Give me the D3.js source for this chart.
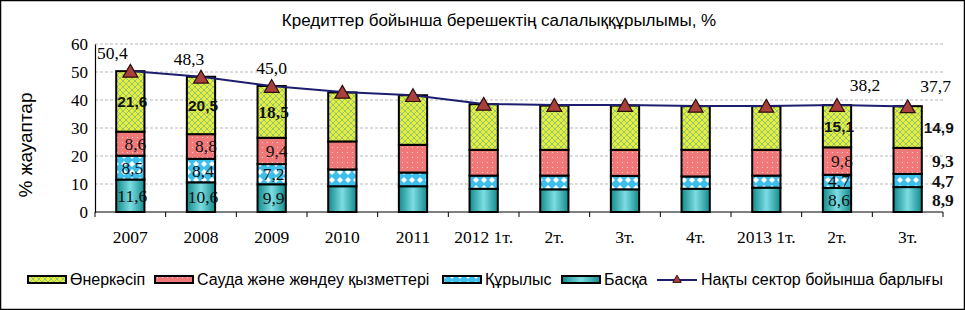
<!DOCTYPE html>
<html>
<head>
<meta charset="utf-8">
<script src="https://cdn.jsdelivr.net/npm/d3@7"></script>
<style>
body { margin: 0; background: #fff; }
svg { display: block; }
</style>
</head>
<body>
<svg id="chart" width="965" height="310"></svg>
<script>
var categories = ["2007", "2008", "2009", "2010", "2011", "2012 1т.", "2т.", "3т.", "4т.", "2013 1т.", "2т.", "3т."];
var baska     = [11.6, 10.6, 9.9, 9.2, 9.2, 8.3, 8.1, 8.1, 8.3, 8.7, 8.6, 8.9];
var kurylys   = [8.5, 8.4, 7.2, 6.0, 4.9, 4.7, 4.9, 4.8, 4.4, 4.3, 4.7, 4.7];
var sauda     = [8.6, 8.8, 9.4, 10.0, 9.9, 9.2, 9.2, 9.3, 9.5, 9.2, 9.8, 9.3];
var onerkasip = [21.6, 20.5, 18.5, 17.5, 17.7, 16.3, 15.8, 15.8, 15.6, 15.6, 15.1, 14.9];
var total     = [50.4, 48.3, 45.0, 42.9, 41.7, 38.6, 38.2, 38.2, 37.9, 37.9, 38.2, 37.7];
var yTicks = [0, 10, 20, 30, 40, 50, 60];
var seriesNames = ["Өнеркәсіп", "Сауда және жөндеу қызметтері", "Құрылыс", "Басқа"];
var lineName = "Нақты сектор бойынша барлығы";
// which columns carry value labels
var labelledInside = [0, 1, 2, 10];
var labelledRight = [11];
var labelledTotal = [0, 1, 2, 10, 11];

var svg = d3.select("#chart");
var W = 965, H = 310;
var plotL = 95, plotR = 943, plotT = 44, plotB = 212;
var serif = "Liberation Serif, Times New Roman";

var fmt = function (v) { return d3.format(".1f")(v).replace(".", ","); };

// patterns
var defs = svg.append("defs");
var pc = defs.append("pattern").attr("id", "cross").attr("patternUnits", "userSpaceOnUse")
	.attr("width", 6).attr("height", 6);
pc.append("rect").attr("width", 6).attr("height", 6).attr("fill", "#e4ee3e");
pc.append("path").attr("d", "M0,0 L6,6 M6,0 L0,6").attr("stroke", "#8fbf78").attr("stroke-width", 0.9);

var pd = defs.append("pattern").attr("id", "dots").attr("patternUnits", "userSpaceOnUse")
	.attr("width", 5).attr("height", 5);
pd.append("rect").attr("width", 5).attr("height", 5).attr("fill", "#f07878");
pd.append("circle").attr("cx", 2.5).attr("cy", 2.5).attr("r", 0.6).attr("fill", "#fbe0e0");

var pm = defs.append("pattern").attr("id", "diam").attr("patternUnits", "userSpaceOnUse")
	.attr("width", 8).attr("height", 8);
pm.append("rect").attr("width", 8).attr("height", 8).attr("fill", "#3cbfea");
pm.append("path").attr("d", "M4,1 L7,4 L4,7 L1,4 Z").attr("fill", "#ffffff");

var gr = defs.append("linearGradient").attr("id", "teal").attr("x1", "0%").attr("x2", "100%");
gr.append("stop").attr("offset", "0%").attr("stop-color", "#128a8c");
gr.append("stop").attr("offset", "50%").attr("stop-color", "#7cdde2");
gr.append("stop").attr("offset", "100%").attr("stop-color", "#128a8c");

var fills = ["url(#cross)", "url(#dots)", "url(#diam)", "url(#teal)"];

// frame
svg.append("rect").attr("x", 0.5).attr("y", 0.5).attr("width", W - 1).attr("height", H - 1)
	.attr("fill", "none").attr("stroke", "#000").attr("stroke-width", 1.5);

svg.append("text").attr("x", 499).attr("y", 26).attr("text-anchor", "middle")
	.attr("font-family", "Liberation Sans, Arial").attr("font-size", 17)
	.text("Кредиттер бойынша берешектің салалыққұрылымы, %");

var x = d3.scaleBand().domain(d3.range(categories.length)).range([plotL, plotR])
	.paddingInner(0.6).paddingOuter(0.3);
var y = d3.scaleLinear().domain([0, 60]).range([plotB, plotT]);

// grid
svg.append("g").selectAll("line").data(yTicks.filter(function (d) { return d > 0; }))
	.enter().append("line")
	.attr("x1", plotL).attr("x2", plotR)
	.attr("y1", function (d) { return y(d); }).attr("y2", function (d) { return y(d); })
	.attr("stroke", "#b8b8b8").attr("stroke-dasharray", "3,2");

// y axis
var yAxis = svg.append("g").attr("transform", "translate(" + plotL + ",0)")
	.call(d3.axisLeft(y).tickValues(yTicks).tickSize(0).tickPadding(7));
yAxis.select(".domain").attr("stroke", "#000").attr("stroke-width", 1.2);
yAxis.selectAll("text").attr("font-family", serif).attr("font-size", 17).attr("fill", "#000");

svg.append("text").attr("transform", "translate(32,145) rotate(-90)").attr("text-anchor", "middle")
	.attr("font-family", "Liberation Sans, Arial").attr("font-size", 19).text("% жауаптар");

// stacked bars
var rows = categories.map(function (c, i) {
	return { i: i, "3": baska[i], "2": kurylys[i], "1": sauda[i], "0": onerkasip[i] };
});
var stack = d3.stack().keys(["3", "2", "1", "0"]);
var layers = stack(rows);

svg.append("g").selectAll("g").data(layers).enter().append("g")
	.attr("fill", function (d) { return fills[+d.key]; })
	.selectAll("rect").data(function (d) { return d; }).enter().append("rect")
	.attr("x", function (d) { return x(d.data.i); })
	.attr("width", x.bandwidth())
	.attr("y", function (d) { return y(d[1]); })
	.attr("height", function (d) { return y(d[0]) - y(d[1]); })
	.attr("stroke", "#000").attr("stroke-width", 2);

// x axis
var xAxisG = svg.append("g").attr("transform", "translate(0," + plotB + ")");
xAxisG.append("line").attr("x1", plotL).attr("x2", plotR).attr("stroke", "#000").attr("stroke-width", 1.2);
var step = x.step();
xAxisG.selectAll("line.tick").data(d3.range(categories.length + 1)).enter().append("line")
	.attr("class", "tick")
	.attr("x1", function (d) { return plotL + d * step; }).attr("x2", function (d) { return plotL + d * step; })
	.attr("y1", 0).attr("y2", 5).attr("stroke", "#000");
xAxisG.selectAll("text").data(categories).enter().append("text")
	.attr("x", function (d, i) { return x(i) + x.bandwidth() / 2; })
	.attr("y", 31).attr("text-anchor", "middle")
	.attr("font-family", serif).attr("font-size", 17.5)
	.text(function (d) { return d; });

// value labels
var labG = svg.append("g");
layers.forEach(function (layer) {
	var k = +layer.key;
	layer.forEach(function (d) {
		var i = d.data.i;
		var inside = labelledInside.indexOf(i) >= 0;
		var outside = labelledRight.indexOf(i) >= 0;
		if (!inside && !outside) return;
		var cx = x(i) + x.bandwidth() / 2;
		var t = labG.append("text")
			.attr("y", (y(d[0]) + y(d[1])) / 2 + 6)
			.text(fmt(d.data[layer.key]));
		if (outside) {
			t.attr("x", x(i) + x.bandwidth() + 32).attr("text-anchor", "end");
		} else {
			t.attr("x", cx + (k == 1 ? 5 : 2)).attr("text-anchor", "middle");
		}
		if (k == 0 && i != 2) {
			t.attr("font-family", "Liberation Sans, Arial").attr("font-weight", "bold").attr("font-size", 15.5);
		} else {
			t.attr("font-family", serif).attr("font-size", 17.5)
				.attr("font-weight", (outside || k == 0) ? "bold" : "normal");
		}
		t.attr("fill", "#111");
	});
});

// total line
var line = d3.line().x(function (d, i) { return x(i) + x.bandwidth() / 2; })
	.y(function (d) { return y(d); });
svg.append("path").datum(total).attr("d", line).attr("fill", "none")
	.attr("stroke", "#1e1e6e").attr("stroke-width", 2);

svg.append("g").selectAll("path").data(total).enter().append("path")
	.attr("d", d3.symbol().type(d3.symbolTriangle).size(95))
	.attr("transform", function (d, i) { return "translate(" + (x(i) + x.bandwidth() / 2) + "," + (y(d) + 2) + ")"; })
	.attr("fill", "#a8413c").attr("stroke", "#2a0d0d").attr("stroke-width", 1.2);

svg.append("g").selectAll("text").data(labelledTotal).enter().append("text")
	.attr("x", function (i) {
		var cx = x(i) + x.bandwidth() / 2;
		if (i == 0) return cx - 18;
		if (i == 1) return cx - 12;
		if (i >= 10) return cx + 28;
		return cx;
	})
	.attr("y", function (i) { return y(total[i]) - (i >= 10 ? 14 : 12); })
	.attr("text-anchor", "middle")
	.attr("font-family", serif).attr("font-size", 17.5)
	.text(function (i) { return fmt(total[i]); });

// legend
var legend = svg.append("g").attr("font-family", "Liberation Sans, Arial").attr("font-size", 16);
var legX = [28, 155, 443, 562];
seriesNames.forEach(function (n, k) {
	legend.append("rect").attr("x", legX[k]).attr("y", 276).attr("width", 38).attr("height", 7)
		.attr("fill", fills[k]).attr("stroke", "#000").attr("stroke-width", 2);
	legend.append("text").attr("x", legX[k] + 42).attr("y", 285).text(n);
});
legend.append("line").attr("x1", 657).attr("x2", 697).attr("y1", 280).attr("y2", 280)
	.attr("stroke", "#1e1e6e").attr("stroke-width", 2);
legend.append("path").attr("d", d3.symbol().type(d3.symbolTriangle).size(30))
	.attr("transform", "translate(677,280)").attr("fill", "#a8413c").attr("stroke", "#2a0d0d");
legend.append("text").attr("x", 701).attr("y", 285).text(lineName);
</script>
</body>
</html>
